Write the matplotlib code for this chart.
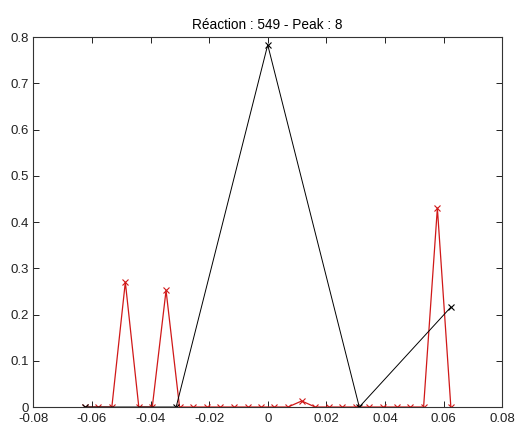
import matplotlib
matplotlib.use('Agg')
import matplotlib.pyplot as plt

plt.rcParams['font.family'] = ['Liberation Sans', 'DejaVu Sans']

# red series: fine sampling
red_x = [-0.0625, -0.0579, -0.0532, -0.0486, -0.0440, -0.0394, -0.0347,
         -0.0301, -0.0255, -0.0208, -0.0162, -0.0116, -0.0069, -0.0023,
         0.0023, 0.0069, 0.0116, 0.0162, 0.0208, 0.0255, 0.0301, 0.0347,
         0.0394, 0.0440, 0.0486, 0.0532, 0.0579, 0.0625]
red_y = [0, 0, 0, 0.27, 0, 0, 0.252,
         0, 0, 0, 0, 0, 0, 0,
         0, 0, 0.013, 0, 0, 0, 0, 0,
         0, 0, 0, 0, 0.43, 0]

# black series: coarse sampling
black_x = [-0.0625, -0.03125, 0, 0.03125, 0.0625]
black_y = [0, 0, 0.783, 0, 0.216]

xticks = [-0.08, -0.06, -0.04, -0.02, 0, 0.02, 0.04, 0.06, 0.08]
xticklabels = ['-0.08', '-0.06', '-0.04', '-0.02', '0', '0.02', '0.04', '0.06', '0.08']
yticks = [0, 0.1, 0.2, 0.3, 0.4, 0.5, 0.6, 0.7, 0.8]
yticklabels = ['0', '0.1', '0.2', '0.3', '0.4', '0.5', '0.6', '0.7', '0.8']

fig = plt.figure(figsize=(5.15, 4.23), dpi=100)
ax = fig.add_axes([0.0647, 0.0378, 0.9103, 0.8747])

ax.plot(red_x, red_y, color='#d01818', lw=0.9, marker='x', ms=5, mew=0.8)
ax.plot(black_x, black_y, color='black', lw=0.7, marker='x', ms=5, mew=0.8)

ax.set_xlim(-0.08, 0.08)
ax.set_ylim(0, 0.8)
ax.set_xticks(xticks)
ax.set_xticklabels(xticklabels)
ax.set_yticks(yticks)
ax.set_yticklabels(yticklabels)
ax.tick_params(direction='in', top=True, right=True, length=4, width=0.7,
               labelsize=9.5, colors='#222222')
ax.tick_params(axis='x', pad=4)
ax.tick_params(axis='y', pad=3)
for s in ax.spines.values():
    s.set_linewidth(0.8)
    s.set_color('#333333')

ax.set_title('Réaction : 549 - Peak : 8', fontsize=9.8, pad=6)

fig.savefig('out.png', dpi=100)
